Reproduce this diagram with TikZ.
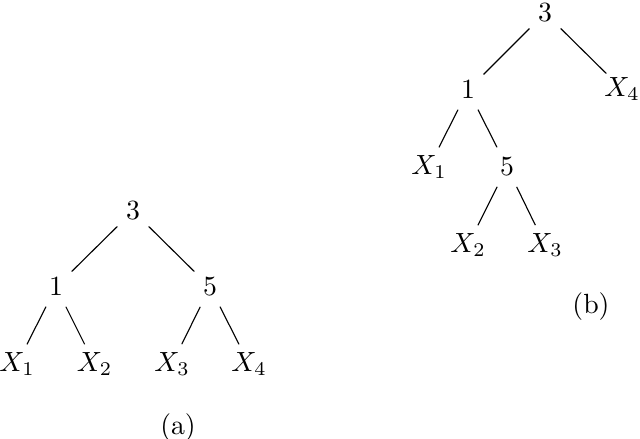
\documentclass[tikz,border=0pt]{standalone}
\begin{document}
\begin{tikzpicture}[x=0.36pt,y=-0.36pt,
  tn/.style={circle,inner sep=0pt,minimum size=15.5pt},
  lbl/.style={inner sep=0pt}]
\useasboundingbox (0,0) rectangle (640,439);
% tree (a)
\node[tn] (a3) at (133,211) {$3$};
\node[tn] (a1) at (56,287) {$1$};
\node[tn] (a5) at (210,287) {$5$};
\node[tn] (ax1) at (17,364) {$X_1$};
\node[tn] (ax2) at (94.5,364) {$X_2$};
\node[tn] (ax3) at (172,364) {$X_3$};
\node[tn] (ax4) at (249,364) {$X_4$};
\node[lbl] (acap) at (178,428) {(a)};
\draw (a3) -- (a1);
\draw (a3) -- (a5);
\draw (a1) -- (ax1);
\draw (a1) -- (ax2);
\draw (a5) -- (ax3);
\draw (a5) -- (ax4);
% tree (b)
\node[tn] (b3) at (545,13) {$3$};
\node[tn] (b1) at (468,90) {$1$};
\node[tn] (bx4) at (622,89) {$X_4$};
\node[tn] (bx1) at (429,167) {$X_1$};
\node[tn] (b5) at (507,167) {$5$};
\node[tn] (bx2) at (468,245) {$X_2$};
\node[tn] (bx3) at (545,245) {$X_3$};
\node[lbl] (bcap) at (591,307) {(b)};
\draw (b3) -- (b1);
\draw (b3) -- (bx4);
\draw (b1) -- (bx1);
\draw (b1) -- (b5);
\draw (b5) -- (bx2);
\draw (b5) -- (bx3);
\end{tikzpicture}
\end{document}
